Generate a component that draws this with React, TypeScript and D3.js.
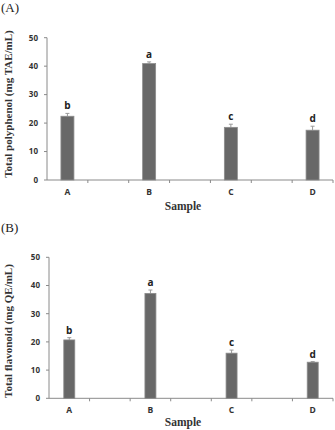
import React from "react";
import * as d3 from "d3";

// Samples and the measured means with their standard deviations
const samples = ["A", "B", "C", "D"];
const polyphenol = [22.4, 40.9, 18.5, 17.5];
const polyphenolSd = [1.0, 0.6, 1.1, 1.4];
const polyphenolGroups = ["b", "a", "c", "d"];
const flavonoid = [20.7, 37.2, 16.0, 12.8];
const flavonoidSd = [0.8, 1.2, 1.1, 0.2];
const flavonoidGroups = ["b", "a", "c", "d"];
const yTicks = [0, 10, 20, 30, 40, 50];

const SANS = "'Open Sans', 'Noto Sans', sans-serif";
const SERIF = "'Liberation Serif', 'Times New Roman', serif";

type PanelProps = {
  tag: string;
  tagY: number;
  yTitle: string;
  values: number[];
  errors: number[];
  groups: string[];
  left: number;
  right: number;
  yMaxPx: number;
  yZeroPx: number;
  barWidth: number;
  titleCenterY: number;
  sampleY: number;
};

function Panel(p: PanelProps) {
  // Seven slots along the axis, the samples occupy every second one
  const slots = d3.range(2 * samples.length - 1);
  const x = d3.scaleBand<number>().domain(slots).range([p.left, p.right]).padding(0);
  const y = d3.scaleLinear().domain([0, 50]).range([p.yZeroPx, p.yMaxPx]);
  const cx = (i: number) => (x(2 * i) as number) + x.bandwidth() / 2;
  const boundaries = slots.map((s) => (x(s) as number) + x.bandwidth());

  return (
    <g>
      <text x={1} y={p.tagY} fontFamily={SERIF} fontSize={13} fill="#222">
        {p.tag}
      </text>

      {/* y axis */}
      <line x1={p.left} x2={p.left} y1={y(50)} y2={y(0)} stroke="#8a8a8a" strokeWidth={1} />
      {yTicks.map((t) => (
        <g key={t}>
          <line x1={p.left - 3} x2={p.left} y1={y(t)} y2={y(t)} stroke="#8a8a8a" />
          <text
            x={p.left - 9}
            y={y(t)}
            dy="0.35em"
            textAnchor="end"
            fontFamily={SANS}
            fontWeight={700}
            fontSize={8}
            fill="#333"
          >
            {t}
          </text>
        </g>
      ))}

      {/* x axis */}
      <line x1={p.left} x2={p.right} y1={y(0)} y2={y(0)} stroke="#8a8a8a" strokeWidth={1} />
      {boundaries.map((b, i) => (
        <line key={i} x1={b} x2={b} y1={y(0)} y2={y(0) + 3} stroke="#8a8a8a" />
      ))}

      {/* bars, error bars and group letters */}
      {samples.map((s, i) => {
        const v = p.values[i];
        const e = p.errors[i];
        return (
          <g key={s}>
            <line x1={cx(i)} x2={cx(i)} y1={y(v)} y2={y(v + e)} stroke="#9a9a9a" />
            <line x1={cx(i) - 2} x2={cx(i) + 2} y1={y(v + e)} y2={y(v + e)} stroke="#9a9a9a" />
            <rect
              x={cx(i) - p.barWidth / 2}
              y={y(v)}
              width={p.barWidth}
              height={y(0) - y(v)}
              fill="#686868"
              stroke="#8c8c8c"
              strokeWidth={0.8}
            />
            <text
              x={cx(i)}
              y={y(v + e) - 4}
              textAnchor="middle"
              fontFamily={SANS}
              fontWeight={700}
              fontSize={10}
              fill="#222"
            >
              {p.groups[i]}
            </text>
            <text
              x={cx(i)}
              y={y(0) + 15}
              textAnchor="middle"
              fontFamily={SANS}
              fontWeight={700}
              fontSize={8.5}
              fill="#333"
            >
              {s}
            </text>
          </g>
        );
      })}

      <text
        x={183}
        y={p.sampleY}
        textAnchor="middle"
        fontFamily={SERIF}
        fontWeight={700}
        fontSize={11.5}
        fill="#333"
      >
        Sample
      </text>

      <text
        transform={`translate(12,${p.titleCenterY}) rotate(-90)`}
        textAnchor="middle"
        fontFamily={SERIF}
        fontWeight={700}
        fontSize={11}
        fill="#333"
      >
        {p.yTitle}
      </text>
    </g>
  );
}

export default function App() {
  return (
    <svg
      width={335}
      height={430}
      style={{ position: "absolute", left: 0, top: 0, background: "#fff" }}
    >
      <Panel
        tag="(A)"
        tagY={12}
        yTitle="Total polyphenol (mg TAE/mL)"
        values={polyphenol}
        errors={polyphenolSd}
        groups={polyphenolGroups}
        left={47}
        right={333}
        yMaxPx={37.7}
        yZeroPx={180}
        barWidth={13}
        titleCenterY={104}
        sampleY={210}
      />
      <Panel
        tag="(B)"
        tagY={232}
        yTitle="Total flavonoid (mg QE/mL)"
        values={flavonoid}
        errors={flavonoidSd}
        groups={flavonoidGroups}
        left={49}
        right={333}
        yMaxPx={257.3}
        yZeroPx={398.3}
        barWidth={11}
        titleCenterY={331}
        sampleY={426}
      />
    </svg>
  );
}
